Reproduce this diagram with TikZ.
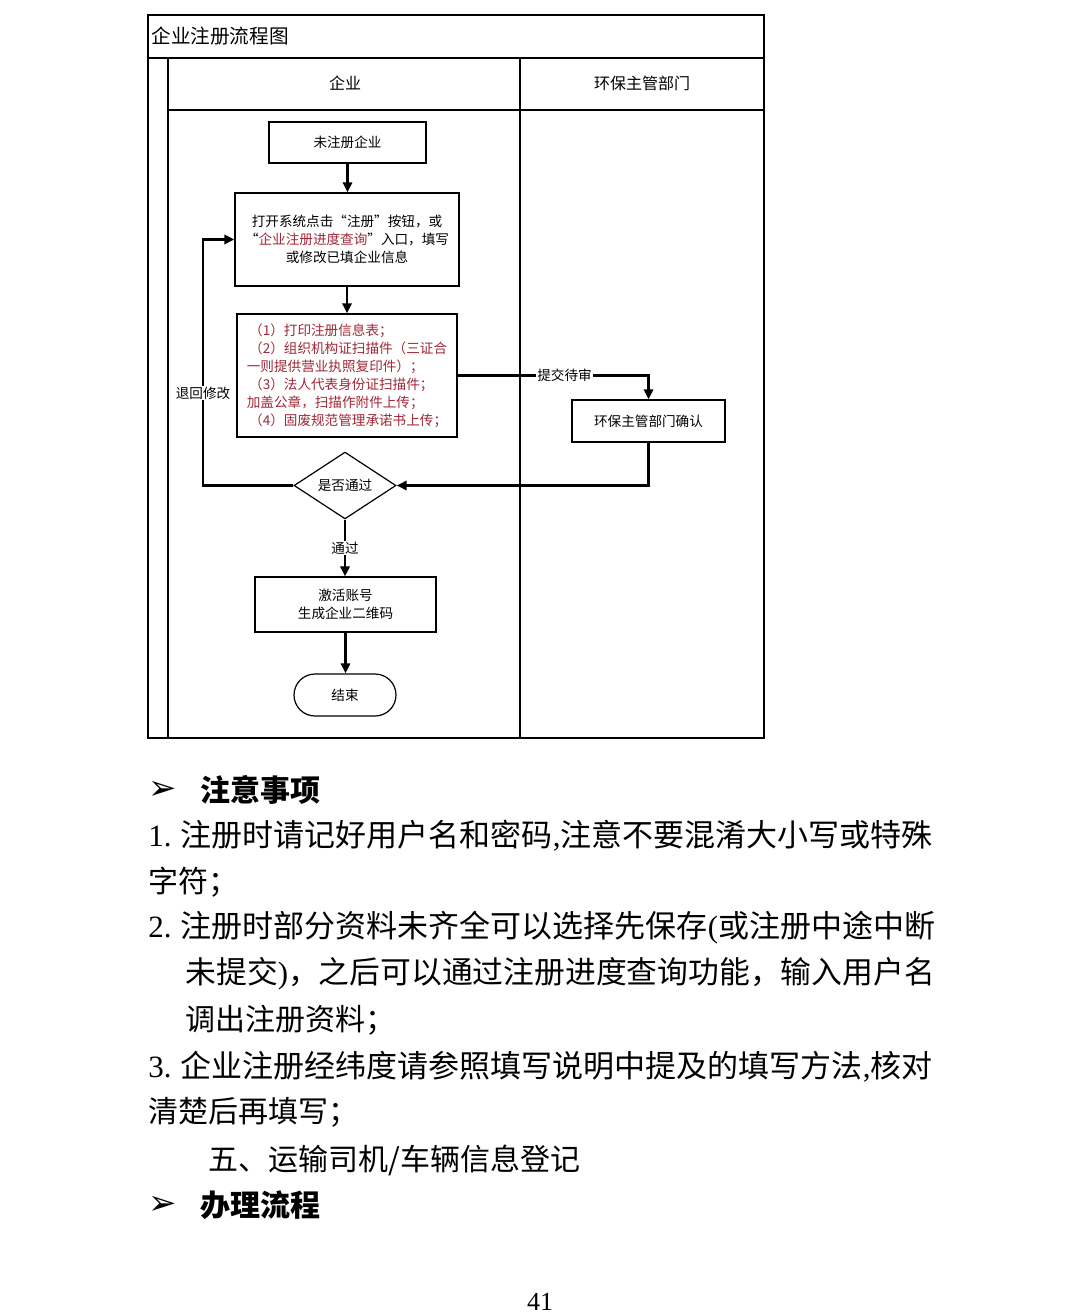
\documentclass[tikz,border=0pt]{standalone}
\usepackage{fontspec}
\setmainfont{Noto Sans CJK SC}
\newfontfamily\serifnum{Liberation Serif}
\newfontfamily\symfont{DejaVu Sans}
\usetikzlibrary{shapes.geometric,arrows.meta}
\definecolor{redtxt}{HTML}{A02838}
\tikzset{
  frame/.style={line width=1pt, draw=black},
  box/.style={draw=black, line width=0.6pt, fill=white, inner sep=0pt, align=center, font=\fontsize{6.8pt}{9pt}\selectfont},
  conn/.style={line width=1.1pt, -{Triangle[length=5pt,width=4.6pt]}},
  lab/.style={fill=white, inner sep=0.6pt, font=\fontsize{6.8pt}{8pt}\selectfont},
  body/.style={anchor=west, inner sep=0pt, font=\fontsize{15pt}{18pt}\selectfont},
  bodywide/.style={anchor=west, inner sep=0pt, font=\fontsize{15.5pt}{18pt}\selectfont},
  head/.style={anchor=west, inner sep=0pt, font=\fontsize{15pt}{18pt}\selectfont\bfseries},
  bullet/.style={anchor=west, inner sep=0pt, font=\symfont\fontsize{17pt}{18pt}\selectfont},
}
\begin{document}
\begin{tikzpicture}[x=0.5pt,y=-0.5pt]
\useasboundingbox[fill=white] (0,0) rectangle (1080,1315);

% frame
\draw[frame] (148,15) rectangle (764,738);
\draw[frame] (148,58) -- (764,58);
\draw[frame] (168,58) -- (168,738);
\draw[frame] (520,58) -- (520,738);
\draw[frame] (168,110) -- (764,110);

\node[anchor=west, inner sep=0pt, font=\fontsize{9.8pt}{11pt}\selectfont] (title) at (151,36) {企业注册流程图};
\node[inner sep=0pt, font=\fontsize{8pt}{9pt}\selectfont] (laneA) at (345,83) {企业};
\node[inner sep=0pt, font=\fontsize{8pt}{9pt}\selectfont] (laneB) at (642,83) {环保主管部门};

% nodes
\node[box, minimum width=78.5pt, minimum height=20.5pt] (start) at (347.5,142.5) {未注册企业};
\node[box, minimum width=112pt, minimum height=46.5pt] (fill) at (347,239.5)
  {打开系统点击“注册”按钮，或\\“\textcolor{redtxt}{企业注册进度查询}”入口，填写\\或修改已填企业信息};
\node[box, minimum width=110pt, minimum height=61.5pt, align=left, text=redtxt] (docs) at (347,375.5)
  {\,（1）打印注册信息表；\\\,（2）组织机构证扫描件（三证合\\一则提供营业执照复印件）；\\\,（3）法人代表身份证扫描件；\\加盖公章，扫描作附件上传；\\\,（4）固废规范管理承诺书上传；};
\node[box, minimum width=76.5pt, minimum height=21pt] (confirm) at (648.5,421) {环保主管部门确认};
\node[box, diamond, minimum width=51pt, minimum height=31.5pt] (pass) at (345,485.5) {是否通过};
\node[box, minimum width=90.5pt, minimum height=27.5pt] (act) at (345.5,604.5) {激活账号\\生成企业二维码};
\node[box, rounded corners=10.5pt, minimum width=51pt, minimum height=21pt] (end) at (345,695) {结束};

% connectors
\draw[conn] (start.south) -- (start.south |- fill.north);
\draw[conn] (fill.south) -- (fill.south |- docs.north);
\draw[conn] (docs.east) -| node[lab, pos=0.28] {提交待审} (confirm.north);
\draw[conn] (confirm.south) |- (pass.east);
\coordinate (backlow) at (203,485.5);
\coordinate (backup) at (203,239.5);
\draw[conn] (pass.west) -- (backlow) -- node[lab, pos=0.376] {退回修改} (backup) -- (fill.west);
\draw[conn] (pass.south) -- node[lab] {通过} (pass.south |- act.north);
\draw[conn] (act.south) -- (act.south |- end.north);

% text below
\node[bullet] (b1) at (148,790) {➢};
\node[head] (h1) at (200,790) {注意事项};
\node[bodywide] (l1) at (148,836) {{\serifnum 1.} 注册时请记好用户名和密码{\serifnum ,}注意不要混淆大小写或特殊};
\node[body] (l2) at (148,882) {字符；};
\node[bodywide] (l3) at (148,928) {{\serifnum 2.} 注册时部分资料未齐全可以选择先保存{\serifnum (}或注册中途中断};
\node[anchor=west, inner sep=0pt, font=\fontsize{15.4pt}{18pt}\selectfont] (l4) at (185,974) {未提交{\serifnum )}，之后可以通过注册进度查询功能，输入用户名};
\node[body] (l5) at (185,1020) {调出注册资料；};
\node[bodywide] (l6) at (148,1067) {{\serifnum 3.} 企业注册经纬度请参照填写说明中提及的填写方法{\serifnum ,}核对};
\node[body] (l7) at (148,1112) {清楚后再填写；};
\node[body] (l8) at (208,1160) {五、运输司机/车辆信息登记};
\node[bullet] (b2) at (148,1205) {➢};
\node[head] (h2) at (200,1205) {办理流程};
\node[inner sep=0pt, font=\serifnum\fontsize{13pt}{15pt}\selectfont] (page) at (540,1302) {41};
\end{tikzpicture}
\end{document}
